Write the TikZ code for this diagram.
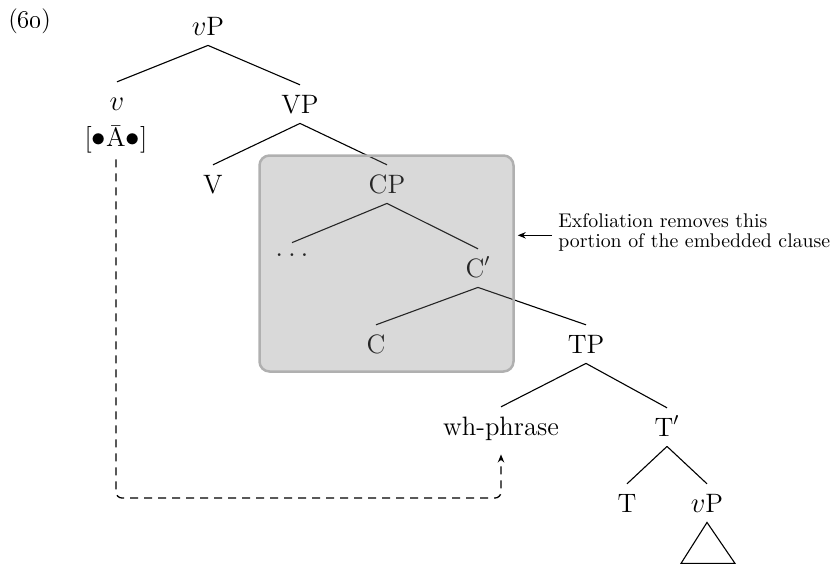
\documentclass[tikz,border=0pt]{standalone}
\usetikzlibrary{arrows.meta}
\definecolor{boxborder}{HTML}{B0B0B0}
\begin{document}
\begin{tikzpicture}[x=0.5pt,y=-0.5pt,
  lbl/.style={font=\fontsize{13.3}{15}\selectfont, anchor=base, inner xsep=0pt, inner ysep=5pt, text height=8.9pt, text depth=0pt},
  edge/.style={line width=0.55pt},
  tip/.style={-{Stealth[length=4pt,width=3.2pt]}},
  dashedpath/.style={line width=0.65pt, dash pattern=on 4pt off 3pt, rounded corners=3pt}
]
\useasboundingbox (0,0) rectangle (833,564);

\node[font=\fontsize{12.5}{14}\selectfont, anchor=base west, inner sep=0pt] (num) at (8,27) {(\oldstylenums{60})};

\node[lbl] (vP) at (208,35) {$v$P};
\node[lbl] (v) at (117,110) {$v$};
\node[lbl, inner ysep=6.5pt] (feat) at (116,146) {[$\bullet$Ā$\bullet$]};
\node[lbl] (VP) at (300,113) {VP};
\node[lbl] (V) at (213,193) {V};
\node[lbl] (CP) at (387,193) {CP};
\node[lbl, text height=1.5pt] (dots) at (292,256) {$\ldots$};
\node[lbl] (Cbar) at (478,277) {C$'$};
\node[lbl] (C) at (376,353) {C};
\node[lbl] (TP) at (586,353) {TP};
\node[lbl] (wh) at (501,435) {wh-phrase};
\node[lbl] (Tbar) at (667,436) {T$'$};
\node[lbl] (T) at (627,512) {T};
\node[lbl] (vP2) at (707,512) {$v$P};

\draw[edge] (vP.south) -- (v.north);
\draw[edge] (vP.south) -- (VP.north);
\draw[edge] (VP.south) -- (V.north);
\draw[edge] (VP.south) -- (CP.north);
\draw[edge] (CP.south) -- (dots.north);
\draw[edge] (CP.south) -- (Cbar.north);
\draw[edge] (Cbar.south) -- (C.north);
\draw[edge] (Cbar.south) -- (TP.north);
\draw[edge] (TP.south) -- (wh.north);
\draw[edge] (TP.south) -- (Tbar.north);
\draw[edge] (Tbar.south) -- (T.north);
\draw[edge] (Tbar.south) -- (vP2.north);
\draw[edge] (vP2.south) -- ++(-26,41) -- ++(54,0) -- cycle;

\coordinate (low) at (0,498);
\coordinate (whtip) at ([yshift=-4.5pt]wh.south);
\draw[dashedpath, tip] (feat.south) -- (feat.south |- low) -- (whtip |- low) -- (whtip);

\node[draw=boxborder, fill=gray, fill opacity=0.3, draw opacity=1, line width=1.25pt,
      rounded corners=5pt, minimum width=127pt, minimum height=108pt, inner sep=0pt]
      (box) at (386.5,263.5) {};

\node[font=\fontsize{9.9}{10}\selectfont, align=left, anchor=north west, inner xsep=3pt, inner ysep=0pt]
      (note) at (552,213) {Exfoliation removes this\\portion of the embedded clause};
\draw[edge, tip, shorten >=1.5pt] ([yshift=-1.5pt]note.west) -- ([yshift=-1.5pt]note.west -| box.east);
\end{tikzpicture}
\end{document}
